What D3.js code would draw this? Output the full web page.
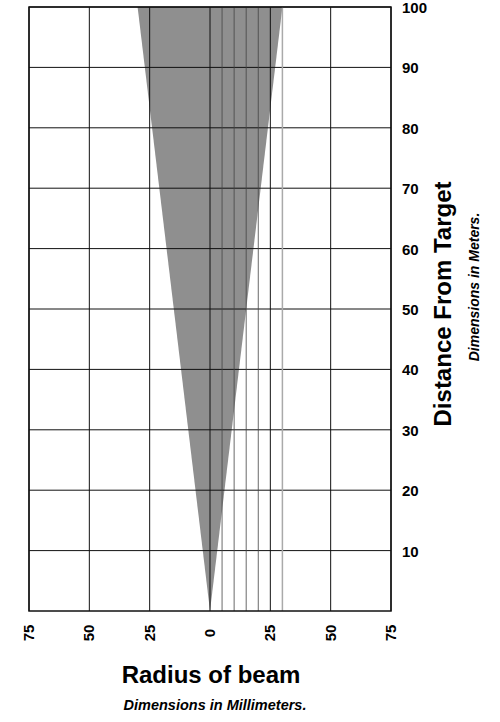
<!DOCTYPE html>
<html><head><meta charset="utf-8">
<script src="https://cdn.jsdelivr.net/npm/d3@7"></script>
<style>body{margin:0;background:#fff;font-family:"Liberation Sans",Arial,sans-serif}</style>
</head><body><svg id="c" width="500" height="722"></svg>
<script>
var xTicks = [-75, -50, -25, 0, 25, 50, 75];
var xTickLabels = ["75", "50", "25", "0", "25", "50", "75"];
var yTicks = [10, 20, 30, 40, 50, 60, 70, 80, 90, 100];
var fineLines = [5, 10, 15, 20];
var beamRadiusAtTop = 30;   // mm at 100 m

var svg = d3.select('#c');
var x = d3.scaleLinear().domain([-75, 75]).range([29, 391]);
var y = d3.scaleLinear().domain([0, 100]).range([611, 7]);

// beam cone
var cone = [[0, 0], [-beamRadiusAtTop, 100], [beamRadiusAtTop, 100]];
svg.append('path')
  .attr('d', d3.line().x(function(d){ return x(d[0]); }).y(function(d){ return y(d[1]); })(cone) + 'Z')
  .attr('fill', '#8f8f8f');

// grid
svg.selectAll('.vx').data(xTicks).enter().append('line')
  .attr('x1', x).attr('x2', x).attr('y1', y(0)).attr('y2', y(100))
  .attr('stroke', '#111').attr('stroke-width', 1);
svg.selectAll('.hy').data(yTicks).enter().append('line')
  .attr('x1', x(-75)).attr('x2', x(75)).attr('y1', y).attr('y2', y)
  .attr('stroke', '#111').attr('stroke-width', 1);
svg.selectAll('.fx').data(fineLines).enter().append('line')
  .attr('x1', x).attr('x2', x).attr('y1', y(0)).attr('y2', y(100))
  .attr('stroke', '#444').attr('stroke-width', 0.8);
svg.append('line')
  .attr('x1', x(beamRadiusAtTop)).attr('x2', x(beamRadiusAtTop)).attr('y1', y(0)).attr('y2', y(100))
  .attr('stroke', '#aaa').attr('stroke-width', 1.5);
// frame
svg.append('rect').attr('x', x(-75)).attr('y', y(100))
  .attr('width', x(75) - x(-75)).attr('height', y(0) - y(100))
  .attr('fill', 'none').attr('stroke', '#111').attr('stroke-width', 1.5);

// y labels
svg.selectAll('.yl').data(yTicks).enter().append('text')
  .attr('x', 402).attr('y', function(d){ return y(d) + 6; })
  .attr('font-size', 15).attr('font-weight', 'bold').text(function(d){ return d; });

// x labels
svg.selectAll('.xl').data(xTicks).enter().append('text')
  .attr('transform', function(d){ return 'translate(' + (x(d) + 5) + ',633) rotate(-90)'; })
  .attr('text-anchor', 'middle').attr('font-size', 15).attr('font-weight', 'bold')
  .text(function(d, i){ return xTickLabels[i]; });

svg.append('text').attr('x', 211).attr('y', 683).attr('text-anchor', 'middle')
  .attr('font-size', 24).attr('font-weight', 'bold').text('Radius of beam');
svg.append('text').attr('x', 215).attr('y', 710).attr('text-anchor', 'middle')
  .attr('font-size', 14.5).attr('font-weight', 'bold').attr('font-style', 'italic')
  .text('Dimensions in Millimeters.');

svg.append('text').attr('transform', 'translate(451,304) rotate(-90)').attr('text-anchor', 'middle')
  .attr('font-size', 24).attr('font-weight', 'bold').text('Distance From Target');
svg.append('text').attr('transform', 'translate(479,287) rotate(-90)').attr('text-anchor', 'middle')
  .attr('font-size', 14).attr('font-weight', 'bold').attr('font-style', 'italic')
  .text('Dimensions in Meters.');
</script></body></html>
